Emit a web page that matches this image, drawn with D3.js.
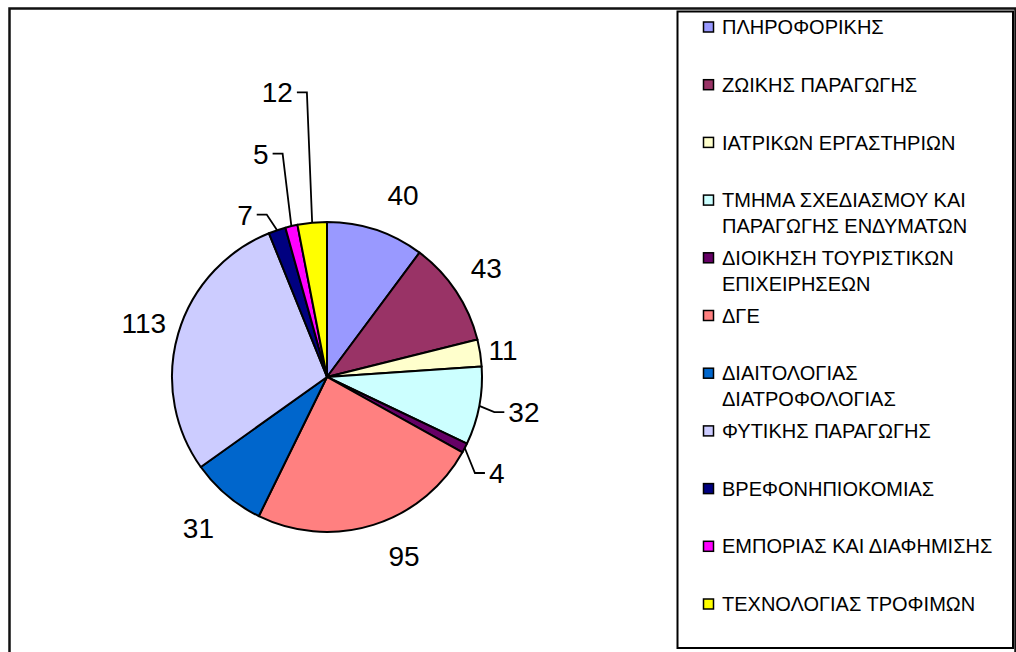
<!DOCTYPE html>
<html>
<head>
<meta charset="utf-8">
<script src="https://cdn.jsdelivr.net/npm/d3@7"></script>
<style>
  body { margin: 0; background: #fff; }
  svg { display: block; font-family: "Liberation Sans", Arial, sans-serif; }
</style>
</head>
<body>
<svg id="chart" width="1016" height="652"></svg>
<script>
// departments (legend order = slice order, clockwise from 12 o'clock)
const departments = [
    ["ΠΛΗΡΟΦΟΡΙΚΗΣ"],
    ["ΖΩΙΚΗΣ ΠΑΡΑΓΩΓΗΣ"],
    ["ΙΑΤΡΙΚΩΝ ΕΡΓΑΣΤΗΡΙΩΝ"],
    ["ΤΜΗΜΑ ΣΧΕΔΙΑΣΜΟΥ ΚΑΙ", "ΠΑΡΑΓΩΓΗΣ ΕΝΔΥΜΑΤΩΝ"],
    ["ΔΙΟΙΚΗΣΗ ΤΟΥΡΙΣΤΙΚΩΝ", "ΕΠΙΧΕΙΡΗΣΕΩΝ"],
    ["ΔΓΕ"],
    ["ΔΙΑΙΤΟΛΟΓΙΑΣ", "ΔΙΑΤΡΟΦΟΛΟΓΙΑΣ"],
    ["ΦΥΤΙΚΗΣ ΠΑΡΑΓΩΓΗΣ"],
    ["ΒΡΕΦΟΝΗΠΙΟΚΟΜΙΑΣ"],
    ["ΕΜΠΟΡΙΑΣ ΚΑΙ ΔΙΑΦΗΜΙΣΗΣ"],
    ["ΤΕΧΝΟΛΟΓΙΑΣ ΤΡΟΦΙΜΩΝ"]
]
const counts = [40, 43, 11, 32, 4, 95, 31, 113, 7, 5, 12]
const colors = ["#9999FF", "#993366", "#FFFFCC", "#CCFFFF", "#660066", "#FF8080",
                "#0066CC", "#CCCCFF", "#000080", "#FF00FF", "#FFFF00"]

// label placement: [angle in degrees from 12 o'clock, distance from centre, leader?]
const labelLayout = [
    [22.7, 197, false], [55.6, 193, false], [81.3, 178, false], [100.1, 200, true],
    [119.5, 195, true], [156.7, 195, false], [220.5, 198, false], [286.4, 191, false],
    [333.2, 182, true], [343.5, 233, true], [350.1, 289, true]
]

const svg = d3.select("#chart")
const cx = 327, cy = 377, r = 155
const fontLabel = 28, fontLegend = 20

// frames
svg.append("rect")
    .attr("x", 9.5).attr("y", 8.5)
    .attr("width", 1006).attr("height", 660)
    .attr("fill", "none").attr("stroke", "#111").attr("stroke-width", 2.5)

let pie = d3.pie().sort(null).value(d => d)
let arcs = pie(counts)
let arc = d3.arc().innerRadius(0).outerRadius(r)

let g = svg.append("g").attr("transform", `translate(${cx},${cy})`)

g.selectAll("path.slice")
    .data(arcs)
    .join("path")
    .attr("class", "slice")
    .attr("d", arc)
    .attr("fill", (d, i) => colors[i])
    .attr("stroke", "#000")
    .attr("stroke-width", 2)
    .attr("stroke-linejoin", "round")

function polar(deg, dist) {
    let a = deg * Math.PI / 180
    return [dist * Math.sin(a), -dist * Math.cos(a)]
}

// labels
let labels = arcs.map((d, i) => {
    let [x, y] = polar(labelLayout[i][0], labelLayout[i][1])
    return { value: d.data, x: x, y: y, arc: d, leader: labelLayout[i][2] }
})

let texts = g.selectAll("text.val")
    .data(labels)
    .join("text")
    .attr("class", "val")
    .attr("x", d => d.x)
    .attr("y", d => d.y + fontLabel * 0.358)
    .attr("text-anchor", "middle")
    .attr("font-size", fontLabel)
    .attr("fill", "#000")
    .text(d => d.value)

// leader lines for the small slices
texts.each(function(d) {
    if (!d.leader) return
    let w = this.getBBox().width
    let mid = (d.arc.startAngle + d.arc.endAngle) / 2
    let edge = [r * Math.sin(mid), -r * Math.cos(mid)]
    let side = edge[0] > d.x ? 1 : -1  // label left of edge -> line leaves from right side
    let end = [d.x + side * (w / 2 + 4), d.y]
    let elbow = [end[0] + side * 10, d.y]
    g.append("path")
        .attr("d", d3.line()([edge, elbow, end]))
        .attr("fill", "none")
        .attr("stroke", "#000")
        .attr("stroke-width", 1.8)
})

// legend
svg.append("rect")
    .attr("x", 677.5).attr("y", 11.5)
    .attr("width", 335.5).attr("height", 636.5)
    .attr("fill", "#fff").attr("stroke", "#000").attr("stroke-width", 2)

let ly = d3.scalePoint()
    .domain(d3.range(departments.length))
    .range([27, 604])

let item = svg.selectAll("g.item")
    .data(departments)
    .join("g")
    .attr("class", "item")
    .attr("transform", (d, i) => `translate(0,${ly(i)})`)

item.append("rect")
    .attr("x", 703.5).attr("y", -5)
    .attr("width", 10).attr("height", 10)
    .attr("fill", (d, i) => colors[i])
    .attr("stroke", "#000").attr("stroke-width", 1.5)

item.append("text")
    .attr("x", 722)
    .attr("font-size", fontLegend)
    .attr("fill", "#000")
    .selectAll("tspan")
    .data(d => d)
    .join("tspan")
    .attr("x", 722)
    .attr("y", (d, i) => i * 26 + fontLegend * 0.358)
    .text(d => d)
</script>
</body>
</html>
